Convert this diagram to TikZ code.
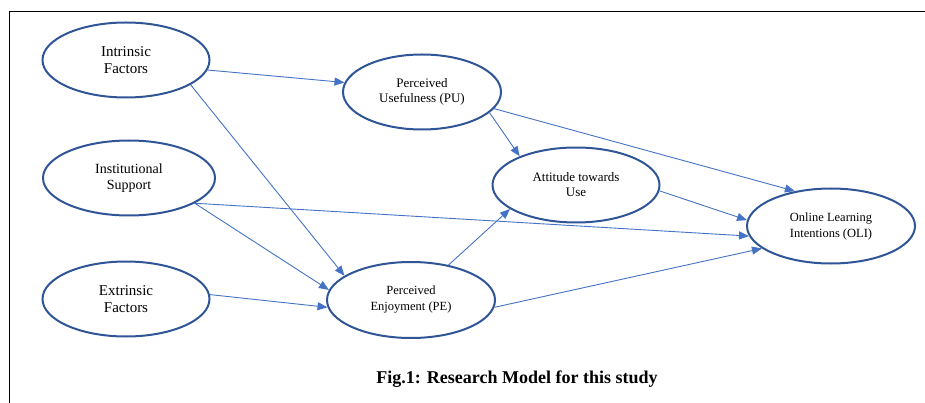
\documentclass[tikz,border=0pt]{standalone}
\usepackage{fontspec}
\setmainfont{Liberation Serif}
\usetikzlibrary{shapes.geometric,arrows.meta}
\definecolor{ovalblue}{HTML}{2F5597}
\definecolor{linkblue}{HTML}{4472C4}
\begin{document}
\begin{tikzpicture}[x=1pt,y=-1pt,
    construct/.style={ellipse,draw=ovalblue,line width=2pt,inner sep=0pt,align=center,minimum width=167pt,minimum height=75pt},
    link/.style={draw=linkblue,line width=0.9pt,-{Triangle[length=10pt,width=8pt]}}]
  \useasboundingbox (0,0) rectangle (925,403);
  \draw[line width=1.8pt] (925,11.5) -- (9.5,11.5) -- (9.5,403);
  % constructs
  \node[construct,font=\fontsize{15}{16.5}\selectfont] (intr) at (126,60) {Intrinsic\\Factors};
  \node[construct,minimum width=172pt,font=\fontsize{14}{16.5}\selectfont] (inst) at (129,178) {Institutional\\Support};
  \node[construct,font=\fontsize{15}{16.5}\selectfont] (extr) at (126,299) {Extrinsic\\Factors};
  \node[construct,minimum width=158pt,font=\fontsize{13}{15}\selectfont] (pu) at (422,92) {Perceived\\Usefulness (PU)};
  \node[construct,font=\fontsize{13}{15}\selectfont] (att) at (576,185) {Attitude towards\\Use};
  \node[construct,minimum width=168pt,font=\fontsize{12.5}{16}\selectfont] (oli) at (831,226) {Online Learning\\Intentions (OLI)};
  \node[construct,minimum width=168pt,minimum height=76pt,font=\fontsize{12.5}{16}\selectfont] (pe) at (411,300) {Perceived\\Enjoyment (PE)};
  \node[font=\bfseries\fontsize{18}{21}\selectfont] (cap) at (517,379) {Fig.1: Research Model for this study};
  % paths
  \draw[link] (intr.-7) -- (pu.173);
  \draw[link] (intr.-21) -- (pe.160);
  \draw[link] (inst.-21) -- (pe.173);
  \draw[link] (inst.-21) -- (oli.187);
  \draw[link] (extr.3) -- (pe.185);
  \draw[link] (pu.-17) -- (att.153);
  \draw[link] (pu.-13) -- (oli.136);
  \draw[link] (att.-4) -- (oli.176);
  \draw[link] (pe.43) -- (att.200);
  \draw[link] (pe.-5) -- (oli.198);
\end{tikzpicture}
\end{document}
